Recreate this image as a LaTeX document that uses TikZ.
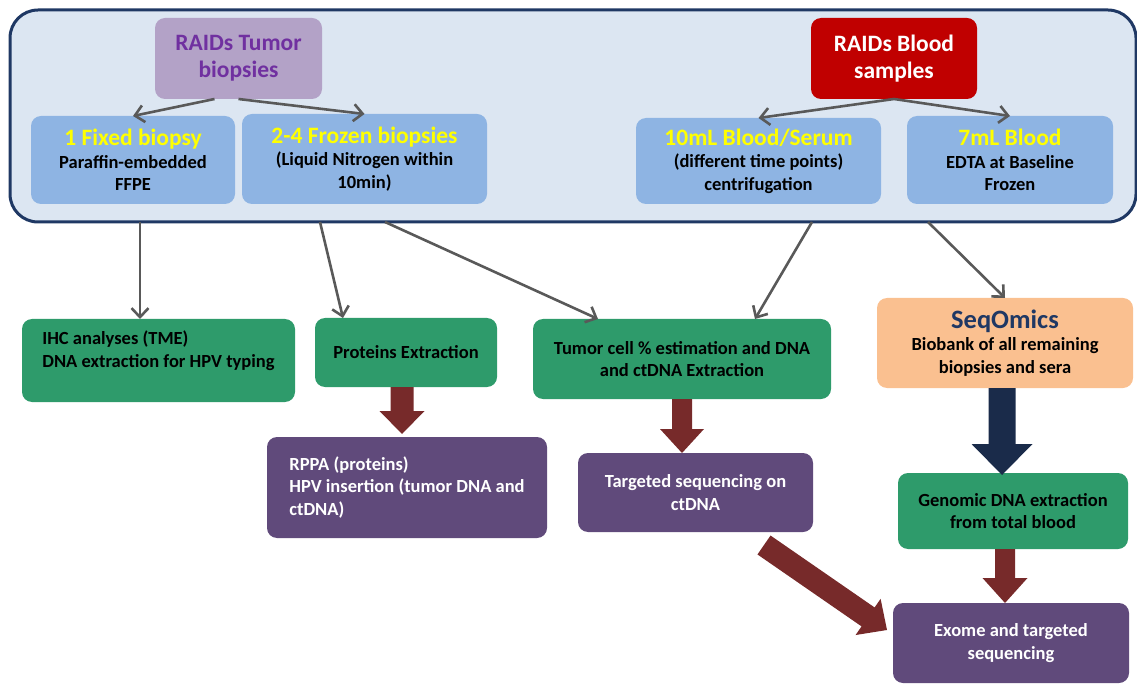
\documentclass[tikz,border=0pt]{standalone}
\usepackage{fontspec}
\setmainfont{Carlito}
\usetikzlibrary{arrows.meta,calc}

\definecolor{panelfill}{HTML}{DCE6F2}
\definecolor{panelline}{HTML}{1F3864}
\definecolor{lavender}{HTML}{B3A2C7}
\definecolor{tumortext}{HTML}{7030A0}
\definecolor{bloodred}{HTML}{C00000}
\definecolor{sampleblue}{HTML}{8EB4E3}
\definecolor{titleyellow}{HTML}{FFFF00}
\definecolor{stepgreen}{HTML}{2E9B6B}
\definecolor{seqorange}{HTML}{FAC090}
\definecolor{seqnavy}{HTML}{1F3864}
\definecolor{seqpurple}{HTML}{604A7B}
\definecolor{flowred}{HTML}{772A2A}
\definecolor{flownavy}{HTML}{1A2B4A}
\definecolor{linkgray}{HTML}{595959}

\newcommand\bodyfont{\fontsize{18.5}{22.5}\selectfont\bfseries}
\newcommand\headfont{\fontsize{23.5}{27}\selectfont\bfseries}
\newcommand\bigheadfont{\fontsize{26.5}{30}\selectfont\bfseries}

% filled block arrow: colour, start, tip, half shaft width, half head width, head length
\newcommand\fatarrow[6]{%
  \coordinate (fa-h) at ($(#3)!#6!(#2)$);
  \fill[#1] ($(#2)!#4!90:(#3)$) -- ($(fa-h)!#4!90:(#3)$) -- ($(fa-h)!#5!90:(#3)$)
    -- (#3) -- ($(fa-h)!#5!-90:(#3)$) -- ($(fa-h)!#4!-90:(#3)$)
    -- ($(#2)!#4!-90:(#3)$) -- cycle;
}

\tikzset{
  card/.style={rounded corners=10pt, inner sep=0pt, outer sep=0pt,
    font=\bodyfont, align=center},
  bluecard/.style={card, fill=sampleblue},
  greencard/.style={card, fill=stepgreen},
  purplecard/.style={card, fill=seqpurple, text=white},
  link/.style={draw=linkgray, line width=2.6pt,
    -{Straight Barb[length=9pt,width=17pt]}},
}

\begin{document}
\begin{tikzpicture}[x=1pt,y=-1pt]
\useasboundingbox (0,0) rectangle (1137,684);

% sample collection panel
\node[draw=panelline, line width=3pt, fill=panelfill, rounded corners=28pt,
  minimum width=1126, minimum height=212, inner sep=0pt, outer sep=0pt]
  (panel) at (573,116) {};

\node[card, fill=lavender, text=tumortext, font=\headfont,
  minimum width=167, minimum height=81] (tumor) at (238.5,58.5) {RAIDs Tumor\\biopsies};
\node[card, fill=bloodred, text=white, font=\headfont,
  minimum width=166, minimum height=81] (blood) at (894,58.5) {RAIDs Blood\\samples};

\node[bluecard, minimum width=204, minimum height=88] (fixed) at (133,160)
  {\textcolor{titleyellow}{\headfont 1 Fixed biopsy}\\Paraffin-embedded\\FFPE};
\node[bluecard, minimum width=245, minimum height=90] (frozen) at (364.5,159)
  {\textcolor{titleyellow}{\headfont 2-4 Frozen biopsies}\\(Liquid Nitrogen within\\10min)};
\node[bluecard, minimum width=245, minimum height=86] (serum) at (758.5,161)
  {\textcolor{titleyellow}{\headfont 10mL Blood/Serum}\\(different time points)\\centrifugation};
\node[bluecard, minimum width=206, minimum height=88] (seven) at (1010,160)
  {\textcolor{titleyellow}{\headfont 7mL Blood}\\EDTA at Baseline\\Frozen};

% processing steps
\node[greencard, align=left, minimum width=273, minimum height=83] (ihc) at (158.5,360.5)
  {IHC analyses (TME)\\DNA extraction for HPV typing\\\mbox{}};
\node[greencard, minimum width=182, minimum height=69] (prot) at (406,352.5)
  {Proteins Extraction};
\node[greencard, minimum width=298, minimum height=80] (tcell) at (682,359)
  {Tumor cell \% estimation and DNA\\and ctDNA Extraction};
\node[card, fill=seqorange, minimum width=256, minimum height=90] (seq) at (1005,343)
  {\textcolor{seqnavy}{\bigheadfont SeqOmics}\\Biobank of all remaining\\biopsies and sera};

\node[purplecard, align=left, minimum width=280, minimum height=101] (rppa) at (407,487.5)
  {RPPA (proteins)\\HPV insertion (tumor DNA and\\ctDNA)};
\node[purplecard, minimum width=235, minimum height=79] (targ) at (695.5,492.5)
  {Targeted sequencing on\\ctDNA};
\node[greencard, minimum width=230, minimum height=76] (gen) at (1013,511)
  {Genomic DNA extraction\\from total blood};
\node[purplecard, minimum width=236, minimum height=80] (exome) at (1011,643)
  {Exome and targeted\\sequencing};

% split arrows inside the panel
\draw[link] ([xshift=-24]tumor.south) -- (fixed.north);
\draw[link] (tumor.south) -- (frozen.north);
\draw[link] (blood.south) -- (serum.north);
\draw[link] (blood.south) -- (seven.north);

% arrows leaving the panel
\coordinate (o1) at (140,222);
\coordinate (o2) at (320,222);
\coordinate (o3) at (385,222);
\coordinate (o4) at (812,222);
\coordinate (o5) at (928,222);
\draw[link] (o1) -- (o1 |- ihc.north);
\draw[link] (o2) -- ([xshift=28]prot.north west);
\draw[link] (o3) -- ([xshift=65]tcell.north west);
\draw[link] (o4) -- ([xshift=-76]tcell.north east);
\draw[link] (o5) -- (seq.north);

% block arrows
\coordinate (b1s) at ([xshift=-4]prot.south);
\coordinate (b1e) at ([yshift=3]b1s |- rppa.north);
\fatarrow{flowred}{b1s}{b1e}{11.5pt}{22.5pt}{23pt}

\coordinate (b2e) at (tcell.south |- targ.north);
\fatarrow{flowred}{tcell.south}{b2e}{10pt}{22pt}{24pt}

\coordinate (b3s) at ([xshift=-3]seq.south);
\coordinate (b3e) at ([yshift=-2]b3s |- gen.north);
\fatarrow{flownavy}{b3s}{b3e}{13.5pt}{30.5pt}{31pt}

\coordinate (b4s) at ([xshift=-8]gen.south);
\coordinate (b4e) at (b4s |- exome.north);
\fatarrow{flowred}{b4s}{b4e}{10pt}{22.5pt}{25pt}

\coordinate (b5s) at (764,545);
\coordinate (b5e) at (887,630);
\fatarrow{flowred}{b5s}{b5e}{11.5pt}{22pt}{23pt}
\end{tikzpicture}
\end{document}
